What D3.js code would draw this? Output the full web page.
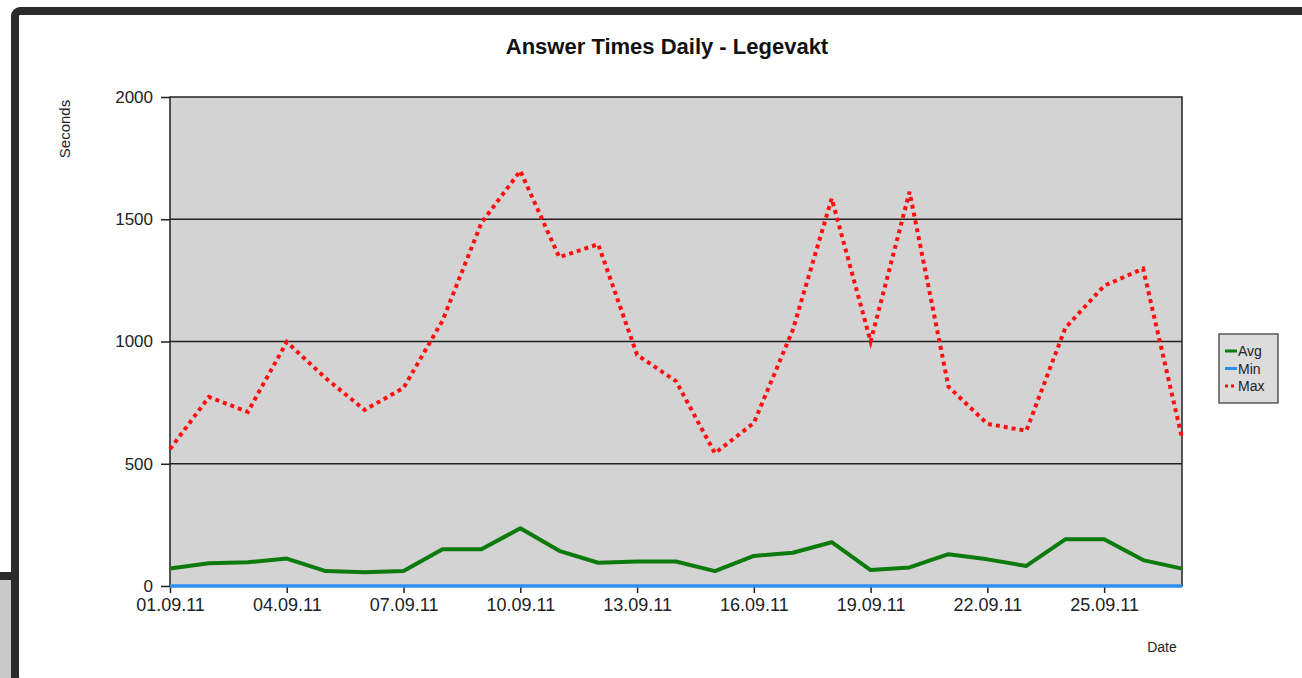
<!DOCTYPE html>
<html>
<head>
<meta charset="utf-8">
<script src="https://d3js.org/d3.v7.min.js"></script>
<style>
  body { margin: 0; background: #fff; }
  svg { display: block; font-family: "Liberation Sans", Arial, sans-serif; }
</style>
</head>
<body>
<div id="chart"></div>
<script>
// days of September 2011
var days = ["01.09.11","02.09.11","03.09.11","04.09.11","05.09.11","06.09.11","07.09.11",
            "08.09.11","09.09.11","10.09.11","11.09.11","12.09.11","13.09.11","14.09.11",
            "15.09.11","16.09.11","17.09.11","18.09.11","19.09.11","20.09.11","21.09.11",
            "22.09.11","23.09.11","24.09.11","25.09.11","26.09.11","27.09.11"];
var avgValues = [72, 93, 97, 112, 61, 56, 61, 150, 150, 236, 144, 95, 100, 100,
                 61, 123, 136, 179, 65, 76, 130, 109, 82, 191, 191, 106, 71];
var minValues = [0, 0, 0, 0, 0, 0, 0, 0, 0, 0, 0, 0, 0, 0,
                 0, 0, 0, 0, 0, 0, 0, 0, 0, 0, 0, 0, 0];
var maxValues = [560, 773, 712, 998, 850, 720, 810, 1085, 1485, 1698, 1345, 1398, 945, 838,
                 543, 667, 1047, 1585, 1000, 1612, 815, 663, 635, 1055, 1228, 1298, 605];
var yTicks = [0, 500, 1000, 1500, 2000];

var parseDay = d3.timeParse("%d.%m.%y");
var fmtDay = d3.timeFormat("%d.%m.%y");

var W = 1302, H = 678;

var svg = d3.select("#chart").append("svg")
    .attr("width", W)
    .attr("height", H);

// window behind, bottom left
svg.append("rect").attr("x", 0).attr("y", 572).attr("width", 12).attr("height", 8).attr("fill", "#2a2a2a");
svg.append("rect").attr("x", 0).attr("y", 580).attr("width", 12).attr("height", 98).attr("fill", "#c9c9c9");

// frame
svg.append("rect")
    .attr("x", 15).attr("y", 11)
    .attr("width", W + 40).attr("height", H - 7)
    .attr("rx", 5)
    .attr("fill", "#fff")
    .attr("stroke", "#2b2b2b")
    .attr("stroke-width", 8);

var x = d3.scaleTime()
    .domain([parseDay(days[0]), parseDay(days[days.length - 1])])
    .range([170, 1182]);
var y = d3.scaleLinear().domain([0, 2000]).range([586, 97]);

// plot area
svg.append("rect")
    .attr("x", x.range()[0]).attr("y", y(2000))
    .attr("width", x.range()[1] - x.range()[0])
    .attr("height", y(0) - y(2000))
    .attr("fill", "#d3d3d3")
    .attr("stroke", "#222")
    .attr("stroke-width", 1.5);

// grid
svg.append("g").selectAll("line")
    .data(yTicks.slice(1, -1))
    .enter().append("line")
    .attr("x1", x.range()[0]).attr("x2", x.range()[1])
    .attr("y1", function (d) { return y(d); })
    .attr("y2", function (d) { return y(d); })
    .attr("stroke", "#222")
    .attr("stroke-width", 1.5);

// y axis
var y_g = svg.append("g")
    .attr("transform", "translate(" + x.range()[0] + ",0)")
    .call(d3.axisLeft(y).tickValues(yTicks).tickSize(9).tickPadding(8).tickFormat(d3.format("d")));
y_g.select(".domain").remove();
y_g.selectAll("line").attr("stroke", "#222").attr("stroke-width", 1.5);
y_g.selectAll("text")
    .style("font-size", "17px")
    .style("font-family", "'Liberation Sans', Arial, sans-serif")
    .attr("fill", "#222");

// x axis
var x_g = svg.append("g")
    .attr("transform", "translate(0," + y(0) + ")")
    .call(d3.axisBottom(x).ticks(d3.timeDay.every(3)).tickSize(7).tickPadding(5).tickFormat(fmtDay));
x_g.select(".domain").remove();
x_g.selectAll("line").attr("stroke", "#222").attr("stroke-width", 1.5);
x_g.selectAll("text")
    .style("font-size", "18px")
    .style("font-family", "'Liberation Sans', Arial, sans-serif")
    .attr("fill", "#222");

function lineFor(values) {
    return d3.line()
        .x(function (d, i) { return x(parseDay(days[i])); })
        .y(function (d) { return y(d); })(values);
}

svg.append("path")
    .attr("d", lineFor(avgValues))
    .attr("fill", "none")
    .attr("stroke", "#0d7a0d")
    .attr("stroke-width", 4)
    .attr("stroke-linejoin", "round");

svg.append("path")
    .attr("d", lineFor(minValues))
    .attr("fill", "none")
    .attr("stroke", "#2f8ff0")
    .attr("stroke-width", 3.5);

svg.append("path")
    .attr("d", lineFor(maxValues))
    .attr("fill", "none")
    .attr("stroke", "#ff1010")
    .attr("stroke-width", 4)
    .attr("stroke-dasharray", "4,4");

// titles
svg.append("text")
    .attr("x", 667).attr("y", 54)
    .attr("text-anchor", "middle")
    .style("font-size", "22px")
    .style("font-weight", "bold")
    .attr("fill", "#111")
    .text("Answer Times Daily - Legevakt");

svg.append("text")
    .attr("transform", "translate(70,129) rotate(-90)")
    .attr("text-anchor", "middle")
    .style("font-size", "15px")
    .attr("fill", "#222")
    .text("Seconds");

svg.append("text")
    .attr("x", 1162).attr("y", 652)
    .attr("text-anchor", "middle")
    .style("font-size", "14px")
    .attr("fill", "#222")
    .text("Date");

// legend
var legendItems = [
    { name: "Avg", color: "#0d7a0d", dash: null },
    { name: "Min", color: "#2f8ff0", dash: null },
    { name: "Max", color: "#ff1010", dash: "3,3" }
];
var lg = svg.append("g").attr("transform", "translate(1219,334)");
lg.append("rect")
    .attr("width", 59).attr("height", 69)
    .attr("fill", "#dcdcdc")
    .attr("stroke", "#333")
    .attr("stroke-width", 1.2);
var li = lg.selectAll(".item").data(legendItems).enter().append("g")
    .attr("transform", function (d, i) { return "translate(6," + (17 + i * 17.5) + ")"; });
li.append("line")
    .attr("x1", 0).attr("x2", 12).attr("y1", 0).attr("y2", 0)
    .attr("stroke", function (d) { return d.color; })
    .attr("stroke-width", 3)
    .attr("stroke-dasharray", function (d) { return d.dash; });
li.append("text")
    .attr("x", 13).attr("y", 5)
    .style("font-size", "14px")
    .attr("fill", "#222")
    .text(function (d) { return d.name; });
</script>
</body>
</html>
